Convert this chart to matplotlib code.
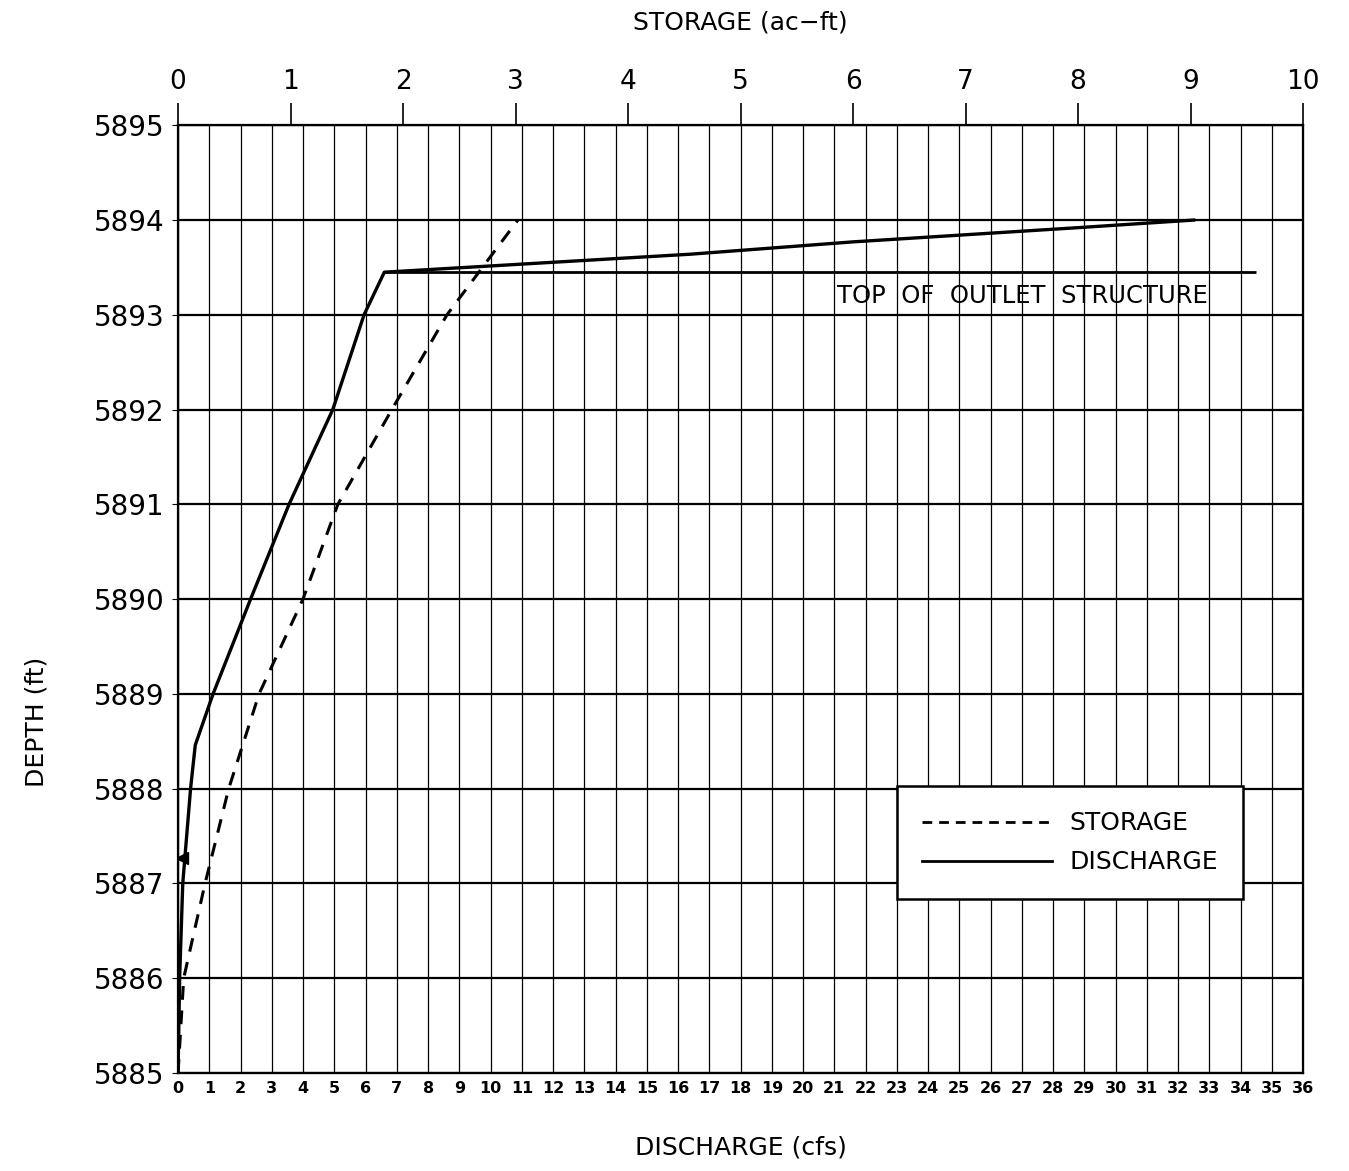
import matplotlib
matplotlib.use("Agg")
import matplotlib.pyplot as plt
from matplotlib.lines import Line2D

# depth-discharge curve (cfs vs ft)
q_cfs = [0.0, 0.05, 0.15, 0.4, 0.55, 1.12, 2.32, 3.55, 4.95, 5.95, 6.6,
         9.7, 16.4, 21.6, 28.8, 32.5]
q_depth = [5885, 5886, 5887, 5888, 5888.46, 5889, 5890, 5891, 5892, 5893,
           5893.45, 5893.51, 5893.64, 5893.77, 5893.92, 5894.0]

# depth-storage curve (ac-ft vs ft)
s_acft = [0.0, 0.05, 0.24, 0.45, 0.72, 1.11, 1.42, 1.90, 2.39, 3.02]
s_depth = [5885, 5886, 5887, 5888, 5889, 5890, 5891, 5892, 5893, 5894]

outlet_top = 5893.45
outlet_x = [6.6, 34.5]
wq_level = 5887.27

cfs_ticks = list(range(0, 37))
stor_ticks = list(range(0, 11))
depth_ticks = list(range(5885, 5896))

plt.rcParams['font.family'] = ['DejaVu Sans']

fig = plt.figure(figsize=(13.49, 11.71), dpi=100)
ax = fig.add_axes([0.132, 0.0837, 0.834, 0.8093])

ax.set_xlim(0, 36)
ax.set_ylim(5885, 5895)
ax.set_xticks(cfs_ticks)
ax.set_yticks(depth_ticks)
ax.set_xticklabels([str(v) for v in cfs_ticks], fontsize=11.5, fontweight='bold')
ax.set_yticklabels([str(v) for v in depth_ticks], fontsize=20)
ax.tick_params(axis='x', length=0, pad=6)
ax.tick_params(axis='y', length=4, pad=6)
ax.grid(axis='x', color='black', linewidth=0.9)
ax.grid(axis='y', color='black', linewidth=1.6)
for sp in ax.spines.values():
    sp.set_linewidth(1.6)

ax.plot(q_cfs, q_depth, color='black', linewidth=2.4, zorder=4)
ax.hlines(outlet_top, outlet_x[0], outlet_x[1], color='black', linewidth=2.0, zorder=4)
ax.plot([0.12], [wq_level], marker='<', color='black', markersize=8, zorder=5)
ax.text(21.1, 5893.2, 'TOP  OF  OUTLET  STRUCTURE', fontsize=17.5,
        va='center', ha='left', zorder=5)

ax.set_xlabel('DISCHARGE (cfs)', fontsize=18, labelpad=28)
ax.set_ylabel('DEPTH (ft)', fontsize=18, labelpad=22)
ax.yaxis.set_label_coords(-0.115, 0.37)

ax2 = ax.twiny()
ax2.set_xlim(0, 10)
ax2.set_xticks(stor_ticks)
ax2.set_xticklabels([str(v) for v in stor_ticks], fontsize=19)
ax2.tick_params(axis='x', direction='out', length=16, width=1.2, pad=6)
ax2.plot(s_acft, s_depth, color='black', linewidth=2.2,
         linestyle=(0, (4.5, 3.5)), zorder=4)
ax2.set_xlabel('STORAGE (ac\u2212ft)', fontsize=18, labelpad=28)

handles = [Line2D([], [], color='black', linewidth=2.0, linestyle=(0, (3.5, 2.5))),
           Line2D([], [], color='black', linewidth=2.0)]
leg = ax.legend(handles, ['STORAGE', 'DISCHARGE'], loc='lower left',
                bbox_to_anchor=(0.628, 0.17), fontsize=18, handlelength=5.2,
                handletextpad=0.7, borderpad=1.0, labelspacing=0.6,
                fancybox=False, framealpha=1, edgecolor='black')
leg.get_frame().set_linewidth(1.8)
leg.set_zorder(6)

fig.savefig('out.png', dpi=100)
